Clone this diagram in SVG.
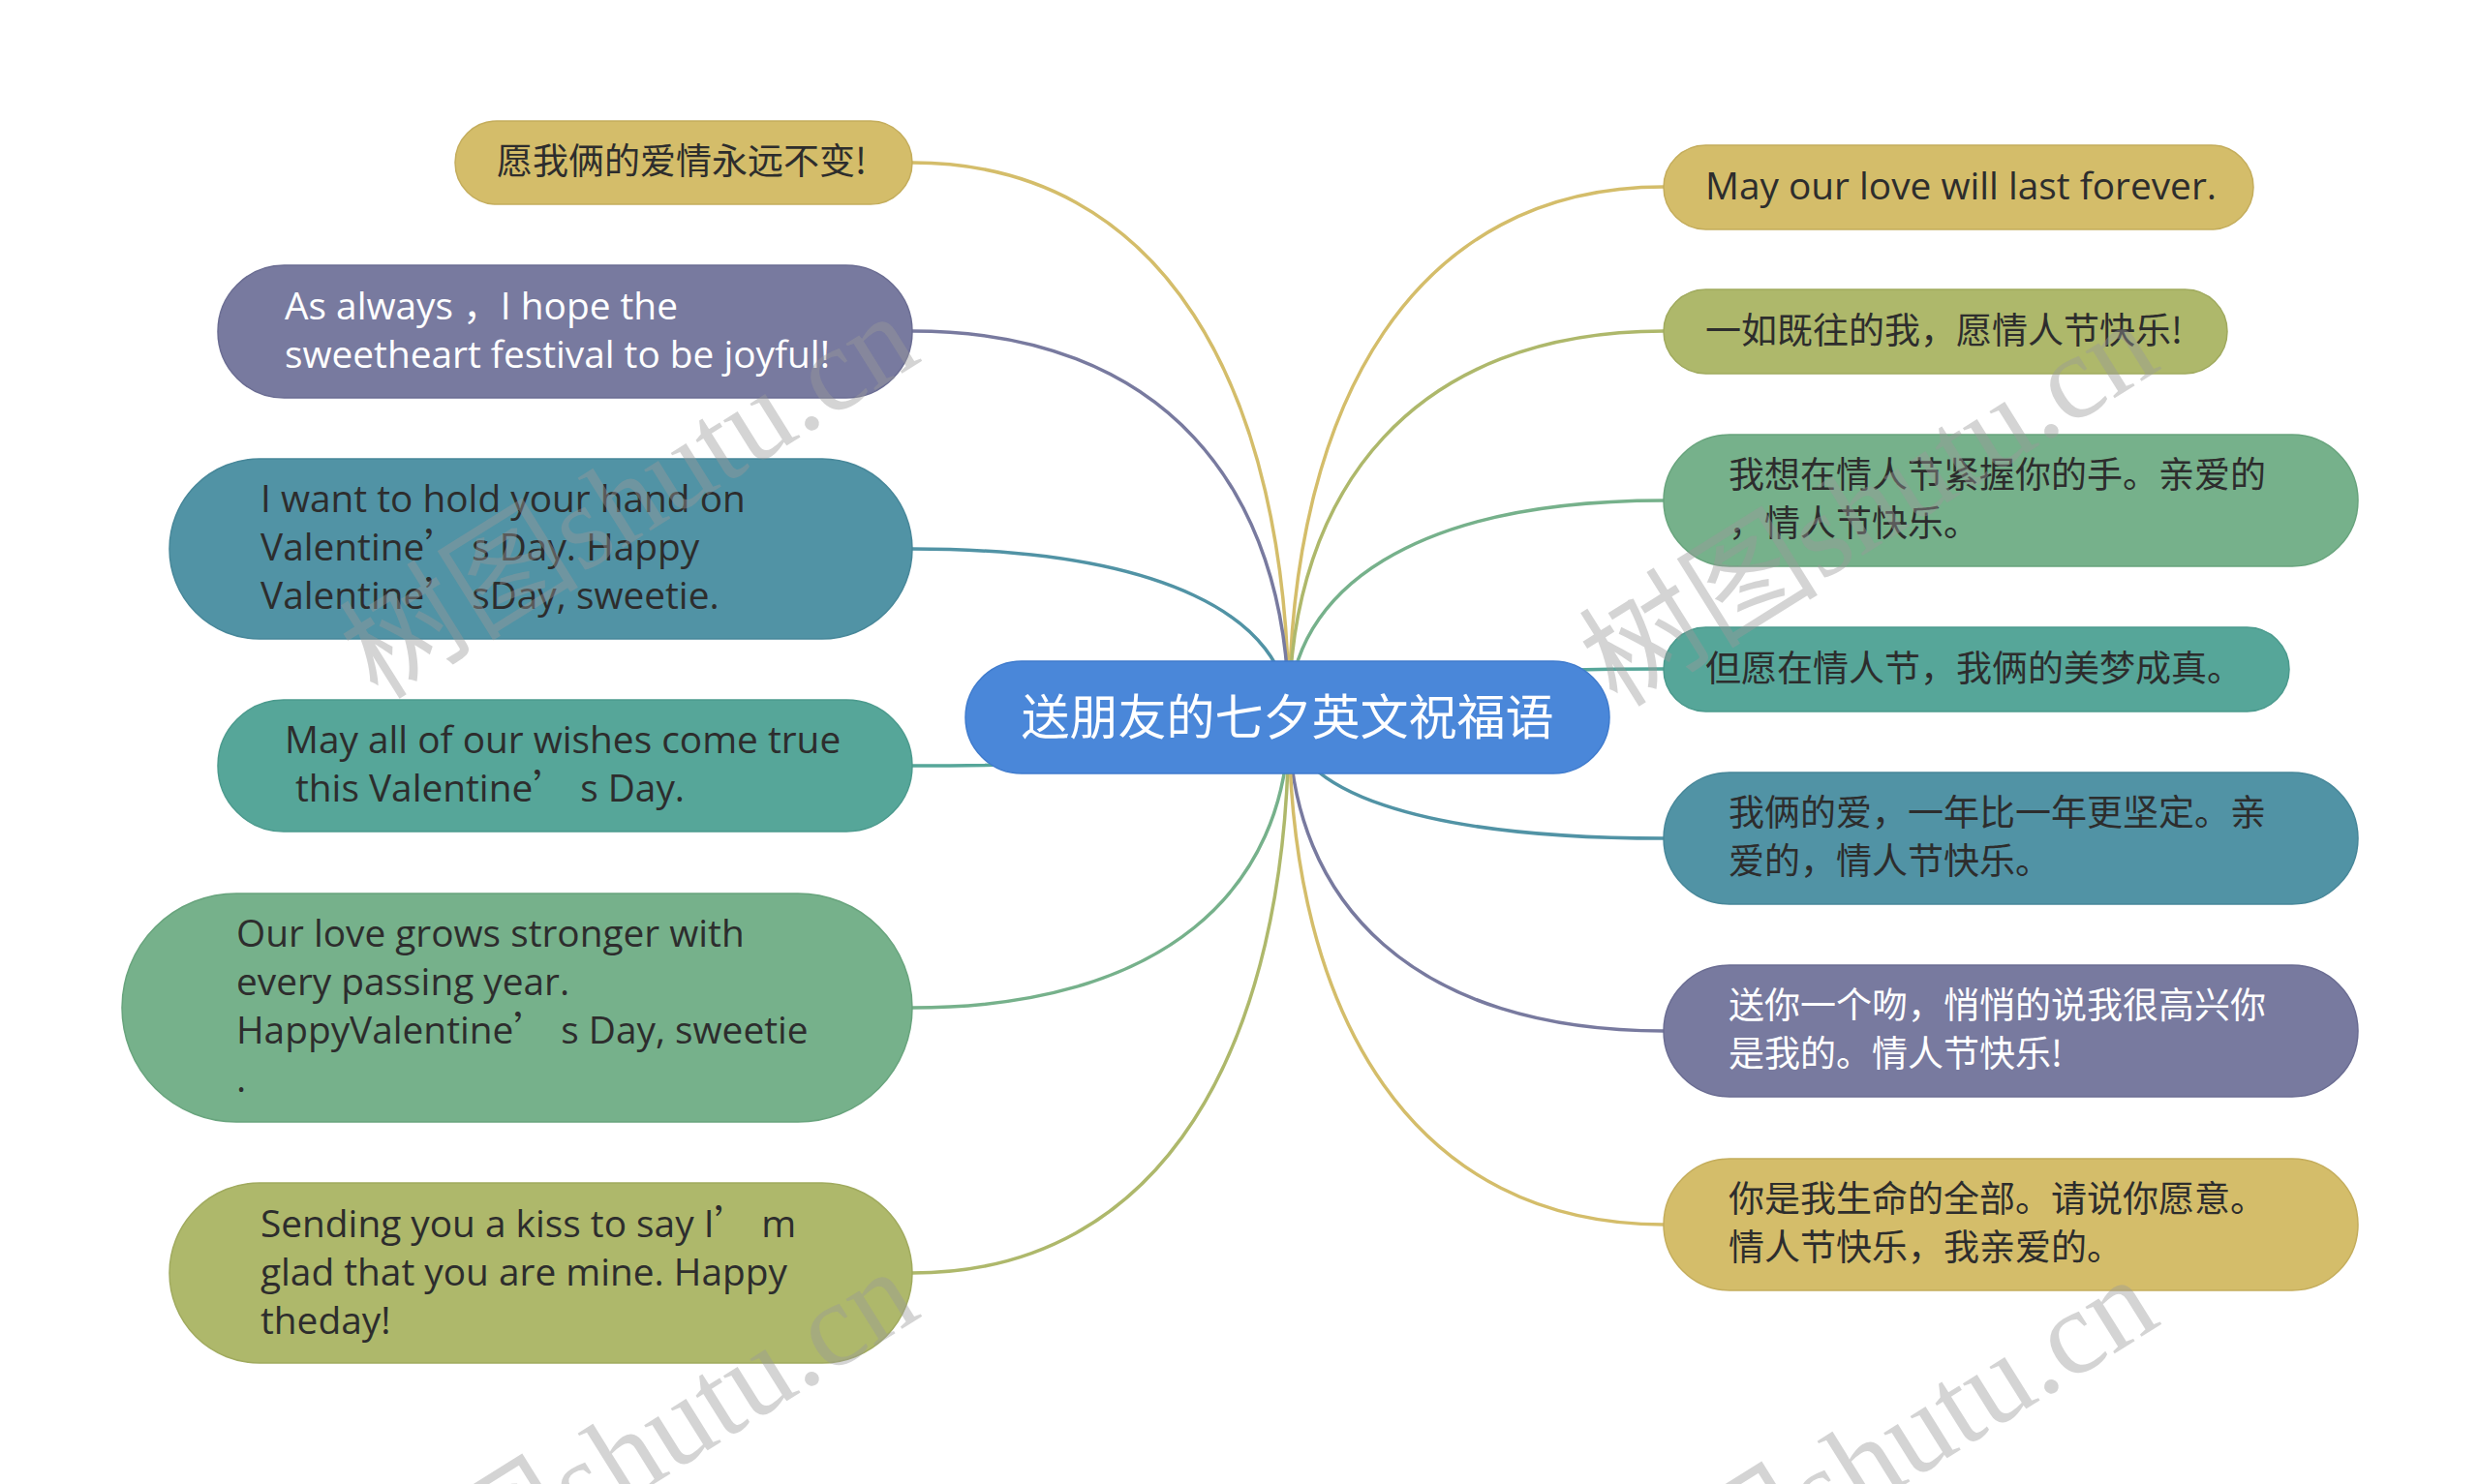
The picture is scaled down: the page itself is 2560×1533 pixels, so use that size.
<svg xmlns="http://www.w3.org/2000/svg" width="2560" height="1533" viewBox="0 0 2560 1533">
<style>
.conn{fill:none;stroke-width:3.5;stroke-linecap:round}
.lt{font-family:"Open Sans","Noto Sans CJK SC",sans-serif;font-size:38.8px}
.ct{font-family:"Noto Sans CJK SC",sans-serif;font-size:37px}
.q{font-family:"Noto Sans CJK SC",sans-serif}
.dk{fill:#2d2d2d}
.wh{fill:#ffffff}
.box{stroke-width:1.5}
.gold{fill:#D4BD6A;stroke:#C4AD5C}
.purple{fill:#787A9F;stroke:#6A6C92}
.bteal{fill:#5193A5;stroke:#478799}
.teal{fill:#56A699;stroke:#4B9A8D}
.green{fill:#76B18B;stroke:#68A47D}
.olive{fill:#AEB86B;stroke:#A0AA5E}
.wm{font-family:"Liberation Serif","Noto Sans CJK SC",serif;font-size:124px;fill:#9a9a9a;opacity:.42}
</style>
<rect width="2560" height="1533" fill="#ffffff"/>
<g id="connectors">
<path class="conn" stroke="#D4BD6A" d="M942 168 C1199 168 1331 397 1331 741"/>
<path class="conn" stroke="#787A9F" d="M942 342 C1199 342 1331 502 1331 741"/>
<path class="conn" stroke="#5193A5" d="M942 567 C1199 567 1331 637 1331 741"/>
<path class="conn" stroke="#56A699" d="M942 791 C1199 791 1331 771 1331 741"/>
<path class="conn" stroke="#76B18B" d="M942 1041 C1199 1041 1331 921 1331 741"/>
<path class="conn" stroke="#AEB86B" d="M942 1315 C1199 1315 1331 1085 1331 741"/>
<path class="conn" stroke="#D4BD6A" d="M1718 193 C1463 193 1331 412 1331 741"/>
<path class="conn" stroke="#AEB86B" d="M1718 342 C1463 342 1331 502 1331 741"/>
<path class="conn" stroke="#76B18B" d="M1718 517 C1463 517 1331 607 1331 741"/>
<path class="conn" stroke="#56A699" d="M1718 691 C1463 691 1331 711 1331 741"/>
<path class="conn" stroke="#5193A5" d="M1718 866 C1463 866 1331 816 1331 741"/>
<path class="conn" stroke="#787A9F" d="M1718 1065 C1463 1065 1331 935 1331 741"/>
<path class="conn" stroke="#D4BD6A" d="M1718 1265 C1463 1265 1331 1055 1331 741"/>
</g>
<g id="center">
<rect x="997" y="683" width="665" height="116" rx="58" fill="#4A87D9" stroke="#3F7BCD" stroke-width="1.5"/>
<text x="1329.5" y="759" text-anchor="middle" font-family="Noto Sans CJK SC, sans-serif" font-size="50" fill="#ffffff">送朋友的七夕英文祝福语</text>
</g>
<g id="L1">
<rect class="box gold" x="470" y="125" width="472" height="86" rx="43"/>
<text class="ct dk" x="513" y="180">愿我俩的爱情永远不变!</text>
</g>
<g id="L2">
<rect class="box purple" x="225" y="274" width="717" height="137" rx="68.5"/>
<text class="lt wh"><tspan x="294" y="329.5">As always ，I hope the</tspan><tspan x="294" y="379.5">sweetheart festival to be joyful!</tspan></text>
</g>
<g id="L3">
<rect class="box bteal" x="175" y="474" width="767" height="186" rx="93"/>
<text class="lt dk"><tspan x="269" y="529">I want to hold your hand on</tspan><tspan x="269" y="579">Valentine<tspan class="q">’</tspan> s Day. Happy</tspan><tspan x="269" y="629">Valentine<tspan class="q">’</tspan> sDay, sweetie.</tspan></text>
</g>
<g id="L4">
<rect class="box teal" x="225" y="723" width="717" height="136" rx="68"/>
<text class="lt dk"><tspan x="294" y="778">May all of our wishes come true</tspan><tspan x="305" y="828">this Valentine<tspan class="q">’</tspan> s Day.</tspan></text>
</g>
<g id="L5">
<rect class="box green" x="126" y="923" width="816" height="236" rx="118"/>
<text class="lt dk"><tspan x="244" y="978">Our love grows stronger with</tspan><tspan x="244" y="1028">every passing year.</tspan><tspan x="244" y="1078">HappyValentine<tspan class="q">’</tspan> s Day, sweetie</tspan><tspan x="244" y="1128">.</tspan></text>
</g>
<g id="L6">
<rect class="box olive" x="175" y="1222" width="767" height="186" rx="93"/>
<text class="lt dk"><tspan x="269" y="1278">Sending you a kiss to say I<tspan class="q">’</tspan> m</tspan><tspan x="269" y="1328">glad that you are mine. Happy</tspan><tspan x="269" y="1378">theday!</tspan></text>
</g>
<g id="R1">
<rect class="box gold" x="1718" y="150" width="609" height="87" rx="43.5"/>
<text class="lt dk" x="1761" y="205.5">May our love will last forever.</text>
</g>
<g id="R2">
<rect class="box olive" x="1718" y="299" width="582" height="87" rx="43.5"/>
<text class="ct dk" x="1761" y="354.5">一如既往的我，愿情人节快乐!</text>
</g>
<g id="R3">
<rect class="box green" x="1718" y="449" width="717" height="136" rx="68"/>
<text class="ct dk"><tspan x="1785" y="504">我想在情人节紧握你的手。亲爱的</tspan><tspan x="1785" y="554">，情人节快乐。</tspan></text>
</g>
<g id="R4">
<rect class="box teal" x="1718" y="648" width="646" height="87" rx="43.5"/>
<text class="ct dk" x="1761" y="703.5">但愿在情人节，我俩的美梦成真。</text>
</g>
<g id="R5">
<rect class="box bteal" x="1718" y="798" width="717" height="136" rx="68"/>
<text class="ct dk"><tspan x="1785" y="853">我俩的爱，一年比一年更坚定。亲</tspan><tspan x="1785" y="903">爱的，情人节快乐。</tspan></text>
</g>
<g id="R6">
<rect class="box purple" x="1718" y="997" width="717" height="136" rx="68"/>
<text class="ct wh"><tspan x="1785" y="1052">送你一个吻，悄悄的说我很高兴你</tspan><tspan x="1785" y="1102">是我的。情人节快乐!</tspan></text>
</g>
<g id="R7">
<rect class="box gold" x="1718" y="1197" width="717" height="136" rx="68"/>
<text class="ct dk"><tspan x="1785" y="1252">你是我生命的全部。请说你愿意。</tspan><tspan x="1785" y="1302">情人节快乐，我亲爱的。</tspan></text>
</g>
<g id="watermarks">
<text class="wm" text-anchor="middle" transform="translate(672,548) rotate(-32)">树图shutu.cn</text>
<text class="wm" text-anchor="middle" transform="translate(1952,556) rotate(-32)">树图shutu.cn</text>
<text class="wm" text-anchor="middle" transform="translate(672,1535) rotate(-32)">树图shutu.cn</text>
<text class="wm" text-anchor="middle" transform="translate(1952,1543) rotate(-32)">树图shutu.cn</text>
</g>
</svg>
